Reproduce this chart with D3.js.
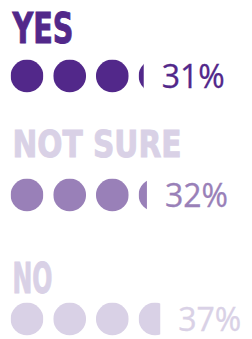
<!DOCTYPE html>
<html>
<head>
<meta charset="utf-8">
<script src="https://cdn.jsdelivr.net/npm/d3@7"></script>
<style>
  html, body { margin: 0; padding: 0; background: #fff; }
  svg { display: block; }
</style>
</head>
<body>
<svg width="252" height="339"></svg>
<script>
// answers and their share of respondents (%)
var answers = ["YES", "NOT SURE", "NO"],
	shares = [31, 32, 37],
	dotsPerRow = 4,      // each dot stands for 10%
	pctPerDot = 10;

// styles per answer
var dotColors = ["#52288a", "#9980b8", "#d9d1e6"],
	labelColors = ["#52288a", "#d9d1e6", "#d9d1e6"],
	labelSizes = [43, 38, 43],
	labelWidths = [62, 170, 41];   // condensed headline face

var svg = d3.select("svg"),
	r = 16.4;

var x = d3.scaleLinear()      // dot index -> centre x
	.domain([0, dotsPerRow - 1])
	.range([27, 155]);

var yDot = d3.scaleOrdinal()  // row centres
	.domain(answers)
	.range([76, 195, 319]);

var yLabel = d3.scaleOrdinal()
	.domain(answers)
	.range([43.3, 157, 293.3]);

// width h of a circle slice (from the left) whose area is frac of the disc
function sliceWidth(frac) {
var	lo = 0, hi = 2 * r, total = Math.PI * r * r;
	for (var i = 0; i < 40; i++) {
		var h = (lo + hi) / 2,
			a = r * r * Math.acos((r - h) / r) - (r - h) * Math.sqrt(2 * r * h - h * h);
		if (a / total < frac) lo = h; else hi = h;
	}
	return (lo + hi) / 2;
}

var rows = svg.selectAll("g.row")
	.data(answers)
	.enter().append("g")
	.attr("class", "row");

rows.each(function(a, i) {
var	g = d3.select(this),
	cy = yDot(a),
	v = shares[i],
	dots = d3.range(dotsPerRow).map(function(k) {
		return Math.max(0, Math.min(1, (v - k * pctPerDot) / pctPerDot));
	}),
	edge = 0;

	g.append("text")
		.attr("x", 12.5)
		.attr("y", yLabel(a))
		.attr("font-family", "'DejaVu Sans Condensed', 'DejaVu Sans', sans-serif")
		.attr("font-weight", "bold")
		.attr("font-size", labelSizes[i])
		.attr("textLength", labelWidths[i] - 1)
		.attr("lengthAdjust", "spacingAndGlyphs")
		.attr("fill", labelColors[i])
		.attr("stroke", labelColors[i])
		.attr("stroke-width", 0.9)
		.text(a);

	var clip = svg.append("defs").append("clipPath").attr("id", "clip" + i);

	dots.forEach(function(f, k) {
		if (f <= 0) return;
		var cx = x(k), w = f >= 1 ? 2 * r : sliceWidth(f);
		clip.append("rect")
			.attr("x", cx - r)
			.attr("y", cy - r)
			.attr("width", w)
			.attr("height", 2 * r);
		edge = cx - r + w;
	});

	g.append("g")
		.attr("clip-path", "url(#clip" + i + ")")
		.selectAll("circle")
		.data(dots)
		.enter().append("circle")
		.attr("cx", function(d, k) { return x(k); })
		.attr("cy", cy)
		.attr("r", r)
		.attr("fill", dotColors[i]);

	g.append("text")
		.attr("x", edge + 18)
		.attr("y", cy + 11.5)
		.attr("font-family", "'Open Sans', sans-serif")
		.attr("font-size", 32)
		.attr("fill", dotColors[i])
		.attr("stroke", dotColors[i])
		.attr("stroke-width", 0.3)
		.text(v + "%");
});
</script>
</body>
</html>
